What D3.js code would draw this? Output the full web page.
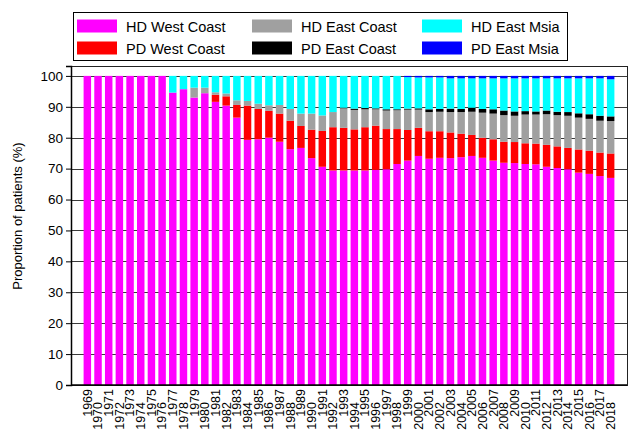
<!DOCTYPE html>
<html>
<head>
<meta charset="utf-8">
<script src="https://cdn.jsdelivr.net/npm/d3@7"></script>
<style>
  body { margin: 0; background: #fff; }
  svg { font-family: "Liberation Sans", Arial, Helvetica, sans-serif; }
</style>
</head>
<body>
<svg id="chart" width="635" height="437"></svg>
<script>
// years on the x axis
var years = d3.range(1969, 2019)

// share of patients (%) per series, one value per year
var hdWest = [100,100,100,100,100,100,100,100,94.6,95.7,93.0,94.4,91.6,90.4,86.5,79.3,79.5,80.0,78.7,76.3,
  76.7,73.4,70.6,69.4,69.4,69.4,69.4,69.6,69.8,71.5,72.6,74.1,73.2,73.5,73.4,73.7,74.1,73.5,72.6,71.9,
  71.8,71.5,71.4,70.6,70.2,69.8,68.7,68.3,67.6,67.0]
var pdWest = [0,0,0,0,0,0,0,0,0,0,0,0,2.3,3.0,4.1,11.1,9.8,8.7,9.1,9.2,
  7.1,9.2,11.6,14.0,13.8,13.3,14.0,14.3,13.0,11.3,9.9,9.1,8.9,8.6,8.3,7.6,6.8,6.5,6.9,6.8,
  6.8,6.7,6.7,7.1,7.0,6.9,7.5,7.5,7.6,7.9]
var hdEast = [0,0,0,0,0,0,0,0,0,0,3.2,1.8,0.8,0.9,1.5,1.5,1.7,1.8,2.8,3.8,
  4.0,5.2,5.0,4.9,6.3,6.3,5.8,5.3,6.0,6.1,6.6,5.9,6.2,6.3,6.6,7.0,7.5,8.1,8.3,8.6,
  8.5,9.3,9.4,9.9,10.1,10.4,10.3,10.3,10.3,10.5]
var pdEast = [0,0,0,0,0,0,0,0,0,0,0,0,0,0,0,0,0,0,0,0,
  0,0,0,0,0.2,0.4,0.4,0.3,0.4,0.3,0.3,0.4,0.9,0.9,1.1,1.0,1.3,1.2,1.4,1.5,
  1.4,1.1,1.0,1.2,1.1,1.2,1.4,1.5,1.6,1.5]
var hdMsia = [0,0,0,0,0,0,0,0,5.4,4.3,3.8,3.8,5.3,5.7,7.9,8.1,9.0,9.5,9.4,10.7,
  12.2,12.2,12.8,11.7,10.3,10.6,10.4,10.5,10.8,10.8,10.2,10.0,10.3,10.2,9.8,9.9,9.5,9.9,10.0,10.4,
  10.7,10.6,10.7,10.4,10.8,10.9,11.3,11.6,12.1,12.0]
var pdMsia = [0,0,0,0,0,0,0,0,0,0,0,0,0,0,0,0,0,0,0,0,
  0,0,0,0,0,0,0,0,0,0,0.4,0.5,0.5,0.5,0.8,0.8,0.8,0.8,0.8,0.8,
  0.8,0.8,0.8,0.8,0.8,0.8,0.8,0.8,0.8,1.1]

var seriesNames = ["HD West Coast", "PD West Coast", "HD East Coast", "PD East Coast", "HD East Msia", "PD East Msia"]
var seriesColors = ["#ff00ff", "#ff0000", "#a0a0a0", "#000000", "#00ffff", "#0000ff"]
var yTicks = [0, 10, 20, 30, 40, 50, 60, 70, 80, 90, 100]

var seriesValues = [hdWest, pdWest, hdEast, pdEast, hdMsia, pdMsia]
var table = years.map(function(yr, i) {
  var row = { year: yr }
  seriesNames.forEach(function(name, s) { row[name] = seriesValues[s][i] })
  return row
})

var svg = d3.select("#chart")
var plotLeft = 71, plotRight = 627, plotTop = 66, plotBottom = 385

var x = d3.scaleBand()
  .domain(years)
  .range([plotLeft, plotRight])
  .paddingInner(0.3)
  .paddingOuter(1.18)

var y = d3.scaleLinear()
  .domain([0, 103.2])
  .range([plotBottom, plotTop])

// grid lines behind the bars
svg.append("g")
  .selectAll("line")
  .data(yTicks.filter(function(t) { return t > 0 }))
  .enter()
  .append("line")
  .attr("x1", plotLeft)
  .attr("x2", plotRight)
  .attr("y1", function(d) { return Math.round(y(d)) + 0.5 })
  .attr("y2", function(d) { return Math.round(y(d)) + 0.5 })
  .attr("stroke", "#3a3a3a")
  .attr("stroke-width", 1.2)

var stacked = d3.stack().keys(seriesNames)(table)

svg.append("g")
  .selectAll("g")
  .data(stacked)
  .enter()
  .append("g")
  .attr("fill", function(d, i) { return seriesColors[i] })
  .selectAll("rect")
  .data(function(d) { return d })
  .enter()
  .append("rect")
  .attr("x", function(d) { return x(d.data.year) })
  .attr("width", x.bandwidth())
  .attr("y", function(d) { return y(d[1]) })
  .attr("height", function(d) { return Math.max(0, y(d[0]) - y(d[1])) })

// frame
svg.append("rect")
  .attr("x", plotLeft + 0.5)
  .attr("y", plotTop + 0.5)
  .attr("width", plotRight - plotLeft)
  .attr("height", plotBottom - plotTop)
  .attr("fill", "none")
  .attr("stroke", "#222")
  .attr("stroke-width", 1)

// y axis
var yAxis = svg.append("g")
  .attr("transform", "translate(" + plotLeft + ",0)")
  .call(d3.axisLeft(y).tickValues(yTicks).tickSize(5).tickPadding(3))
yAxis.select(".domain").attr("stroke", "#000").attr("stroke-width", 1.5)
yAxis.selectAll(".tick line").attr("stroke", "#000")
yAxis.selectAll("text")
  .attr("font-size", "13.5px")
  .attr("font-family", "Liberation Sans, Arial, sans-serif")
  .attr("fill", "#000")

// x axis line
svg.append("line")
  .attr("x1", plotLeft)
  .attr("x2", plotRight)
  .attr("y1", plotBottom)
  .attr("y2", plotBottom)
  .attr("stroke", "#000")
  .attr("stroke-width", 1.5)

// rotated year labels, alternate ones pushed down
svg.append("g")
  .selectAll("text")
  .data(years)
  .enter()
  .append("text")
  .attr("transform", function(d, i) {
    var cx = x(d) + x.bandwidth() / 2
    var ty = 389 + (i % 2) * 13
    return "translate(" + cx + "," + ty + ") rotate(-90)"
  })
  .attr("text-anchor", "end")
  .attr("dy", "0.35em")
  .attr("font-size", "12.5px")
  .text(function(d) { return d })

// y label
svg.append("text")
  .attr("transform", "translate(22,216) rotate(-90)")
  .attr("text-anchor", "middle")
  .attr("font-size", "13px")
  .text("Proportion of patients (%)")

// legend
var legend = svg.append("g")
legend.append("rect")
  .attr("x", 73.5)
  .attr("y", 12.5)
  .attr("width", 494)
  .attr("height", 48)
  .attr("fill", "#fff")
  .attr("stroke", "#000")

var colX = [77, 252, 422]
var rowY = [19.5, 41.5]
var items = legend.selectAll("g.item")
  .data(seriesNames)
  .enter()
  .append("g")
  .attr("class", "item")
  .attr("transform", function(d, i) {
    return "translate(" + colX[Math.floor(i / 2)] + "," + rowY[i % 2] + ")"
  })
items.append("rect")
  .attr("width", 40)
  .attr("height", 13)
  .attr("fill", function(d, i) { return seriesColors[i] })
items.append("text")
  .attr("x", 49)
  .attr("y", 12.5)
  .attr("font-size", "14.5px")
  .text(function(d) { return d })
</script>
</body>
</html>
